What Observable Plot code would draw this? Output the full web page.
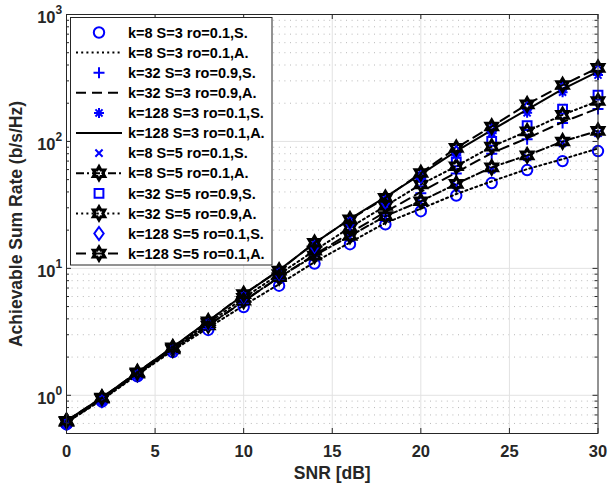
<!DOCTYPE html>
<html><head>
<meta charset="utf-8">
<script src="https://cdn.jsdelivr.net/npm/d3@7"></script>
<script src="https://cdn.jsdelivr.net/npm/@observablehq/plot@0.6"></script>
<style>
body{margin:0;background:#fff;}
#chart{width:608px;height:487px;}
</style>
</head><body><div id="chart"></div>
<script>
const snrDb = [0,2,4,6,8,10,12,14,16,18,20,22,24,26,28,30];

const k8S3_sim   = [0.59,0.89,1.41,2.19,3.27,4.95,7.3,10.9,15.5,22.2,28.2,37.5,47,59.5,70,84];
const k8S3_ana   = [0.61,0.92,1.45,2.25,3.4,5.1,7.5,11.2,16,22.8,29.5,38.5,48.5,60.5,72.5,88];
const k32S3_sim  = [0.6,0.92,1.45,2.27,3.5,5.4,8.3,12.5,18.5,27,39,56,80,104,140,180];
const k32S3_ana  = [0.61,0.93,1.47,2.3,3.55,5.5,8.5,12.8,19,27.8,40,57,81,106,142,182];
const k128S3_sim = [0.6,0.93,1.48,2.33,3.7,6.0,9.3,15,23,34.5,52,78,116,168,244,333];
const k128S3_ana = [0.63,0.96,1.52,2.4,3.85,6.2,9.7,15.8,24.5,36.5,55,84,123,178,258,355];
const k8S5_sim   = [0.6,0.92,1.45,2.27,3.5,5.4,8.3,12.3,17.5,25,33,45,60,75,97,116];
const k8S5_ana   = [0.62,0.94,1.48,2.3,3.55,5.55,8.5,12.6,18,25.8,33.8,46.3,62.5,77.6,100,121];
const k32S5_sim  = [0.61,0.93,1.47,2.32,3.65,5.8,9.0,14,21.5,32.5,48,69,100,133,180,232];
const k32S5_ana  = [0.62,0.95,1.5,2.35,3.7,5.85,9.0,13.8,21,31,45.8,63.7,91,120,162,208];
const k128S5_sim = [0.6,0.91,1.46,2.33,3.7,6.0,9.2,15,23,33.5,53,82,122,182,262,360];
const k128S5_ana = [0.63,0.96,1.52,2.39,3.83,6.27,9.6,15.9,24.3,35.9,56.4,89,131,196,278,380];

const legendLabels = [
  "k=8 S=3 ro=0.1,S.","k=8 S=3 ro=0.1,A.",
  "k=32 S=3 ro=0.9,S.","k=32 S=3 ro=0.9,A.",
  "k=128 S=3 ro=0.1,S.","k=128 S=3 ro=0.1,A.",
  "k=8 S=5 ro=0.1,S.","k=8 S=5 ro=0.1,A.",
  "k=32 S=5 ro=0.9,S.","k=32 S=5 ro=0.9,A.",
  "k=128 S=5 ro=0.1,S.","k=128 S=5 ro=0.1,A."
];
const xTicks = [0,5,10,15,20,25,30];
const yMajor = [1,10,100,1000];
const yExp = ["0","1","2","3"];

// custom marker shapes (MATLAB-like)
const R = s => Math.sqrt(s/Math.PI);
const symCircle = {draw(c,s){const r=R(s);c.moveTo(r,0);c.arc(0,0,r,0,2*Math.PI);}};
const symPlus = {draw(c,s){const r=R(s);c.moveTo(-r,0);c.lineTo(r,0);c.moveTo(0,-r);c.lineTo(0,r);}};
const symTimes = {draw(c,s){const r=R(s)*0.72;c.moveTo(-r,-r);c.lineTo(r,r);c.moveTo(-r,r);c.lineTo(r,-r);}};
const symAst = {draw(c,s){const r=R(s);for(let i=0;i<4;i++){const a=i*Math.PI/4;c.moveTo(r*Math.cos(a),r*Math.sin(a));c.lineTo(-r*Math.cos(a),-r*Math.sin(a));}}};
const symSquare = {draw(c,s){const r=R(s)*0.8;c.moveTo(-r,-r);c.lineTo(r,-r);c.lineTo(r,r);c.lineTo(-r,r);c.closePath();}};
const symDiamond = {draw(c,s){const r=R(s);c.moveTo(0,-r);c.lineTo(r*0.72,0);c.lineTo(0,r);c.lineTo(-r*0.72,0);c.closePath();}};
const symHex = {draw(c,s){const Ro=R(s),Ri=Ro/Math.sqrt(3);for(let i=0;i<12;i++){const a=-Math.PI/2+i*Math.PI/6;const rr=i%2?Ri:Ro;const x=rr*Math.cos(a),y=rr*Math.sin(a);i?c.lineTo(x,y):c.moveTo(x,y);}c.closePath();}};

const BLUE = "#0000ff";
const HEX_R = 6.6, HEX_W = 3;
const series = [
  {v:k8S3_sim,   type:"sim", sym:symCircle,  r:5.2},
  {v:k8S3_ana,   type:"ana", dash:"2,3.2"},
  {v:k32S3_sim,  type:"sim", sym:symPlus,    r:5.5},
  {v:k32S3_ana,  type:"ana", dash:"10,6"},
  {v:k128S3_sim, type:"sim", sym:symAst,     r:5},
  {v:k128S3_ana, type:"ana", dash:null},
  {v:k8S5_sim,   type:"sim", sym:symTimes,   r:5},
  {v:k8S5_ana,   type:"ana", dash:"8,3,2,3", mk:true},
  {v:k32S5_sim,  type:"sim", sym:symSquare,  r:5.5},
  {v:k32S5_ana,  type:"ana", dash:"2,3.2", mk:true},
  {v:k128S5_sim, type:"sim", sym:symDiamond, r:6.5},
  {v:k128S5_ana, type:"ana", dash:"10,6", mk:true}
];

const W = 608, H = 487;
const mL = 66, mR = 10.5, mT = 14, mB = 54;
const innerW = W - mL - mR, innerH = H - mT - mB;
const FONT = "'Liberation Sans', Arial, sans-serif";

const yMinor = [];
[0.1,1,10,100].forEach(d => { for (let m=2;m<=9;m++){ const v=m*d; if(v>0.5 && v<1000) yMinor.push(v);} });

const marks = [
  Plot.ruleY(yMinor, {stroke:"#b8b8b8", strokeWidth:1, strokeDasharray:"1,4.6"}),
  Plot.ruleX([5,10,15,20,25], {stroke:"#e2e2e2", strokeWidth:1}),
  Plot.ruleY([1,10,100], {stroke:"#e2e2e2", strokeWidth:1})
];

series.forEach(s => {
  const rows = snrDb.map((x,i)=>({x, y:s.v[i]}));
  if (s.type === "sim") {
    marks.push(Plot.dot(rows, {x:"x", y:"y", symbol:s.sym, r:s.r, stroke:BLUE, fill:"none", strokeWidth:2}));
  } else {
    marks.push(Plot.line(rows, {x:"x", y:"y", stroke:"#000", strokeWidth:2, strokeDasharray:s.dash ?? undefined}));
    if (s.mk) marks.push(Plot.dot(rows, {x:"x", y:"y", symbol:symHex, r:HEX_R, stroke:"#000", fill:"none", strokeWidth:HEX_W}));
  }
});

// ticks inside on all four sides
marks.push(
  Plot.ruleX(xTicks, {stroke:"#262626", insetTop: innerH-5}),
  Plot.ruleX(xTicks, {stroke:"#262626", insetBottom: innerH-5}),
  Plot.ruleY(yMajor, {stroke:"#262626", insetRight: innerW-5}),
  Plot.ruleY(yMajor, {stroke:"#262626", insetLeft: innerW-5}),
  Plot.ruleY(yMinor, {stroke:"#262626", insetRight: innerW-3}),
  Plot.ruleY(yMinor, {stroke:"#262626", insetLeft: innerW-3}),
  Plot.frame({stroke:"#262626", strokeWidth:1}),
  Plot.axisX(xTicks, {tickSize:0, tickPadding:12, label:null, fontSize:16.5, fontWeight:"bold", fill:"#262626"}),
  Plot.text(yMajor, {y:d=>d, frameAnchor:"left", text:()=>"10", textAnchor:"end", dx:-11, dy:3.5, fontSize:16.5, fontWeight:"bold", fill:"#262626"}),
  Plot.text(yMajor, {y:d=>d, frameAnchor:"left", text:(d,i)=>yExp[i], textAnchor:"start", dx:-11, dy:-4.5, fontSize:12, fontWeight:"bold", fill:"#262626"}),
  Plot.text(["SNR [dB]"], {frameAnchor:"bottom", text:d=>d, textAnchor:"middle", lineAnchor:"middle", dy:40, fontSize:17.5, fontWeight:"bold", fill:"#262626"}),
  Plot.text(["Achievable Sum Rate (b/s/Hz)"], {frameAnchor:"left", text:d=>d, textAnchor:"middle", lineAnchor:"middle", dx:-50, rotate:-90, fontSize:17.5, fontWeight:"bold", fill:"#262626"})
);

const chart = Plot.plot({
  width: W, height: H,
  marginLeft: mL, marginRight: mR, marginTop: mT, marginBottom: mB,
  style: {fontFamily: FONT, background:"#fff"},
  x: {domain:[0,30], axis:null},
  y: {type:"log", domain:[0.5,1000], axis:null},
  marks
});
document.getElementById("chart").appendChild(chart);

// legend (inside the axes, upper left)
const svg = d3.select(chart);
const lg = svg.append("g").attr("font-family", FONT).attr("text-anchor","start");
lg.append("rect").attr("x",70.5).attr("y",17.5).attr("width",201.5).attr("height",247.5)
  .attr("fill","#fff").attr("stroke","#262626").attr("stroke-width",1);
series.forEach((s,i) => {
  const y = 32.5 + i*20.1;
  if (s.type === "ana") {
    const ln = lg.append("line").attr("x1",76).attr("x2",122).attr("y1",y).attr("y2",y)
      .attr("stroke","#000").attr("stroke-width",2);
    if (s.dash) ln.attr("stroke-dasharray", s.dash);
    if (s.mk) lg.append("path").attr("d", d3.symbol(symHex, Math.PI*HEX_R*HEX_R)())
      .attr("transform",`translate(99,${y})`).attr("fill","none").attr("stroke","#000").attr("stroke-width",HEX_W);
  } else {
    lg.append("path").attr("d", d3.symbol(s.sym, Math.PI*s.r*s.r)())
      .attr("transform",`translate(99,${y})`).attr("fill","none").attr("stroke",BLUE).attr("stroke-width",2);
  }
  lg.append("text").attr("x",128).attr("y",y).attr("dy","0.36em").attr("text-anchor","start")
    .attr("font-size",14.5).attr("font-weight","bold").attr("fill","#000").text(legendLabels[i]);
});
</script>
</body></html>
